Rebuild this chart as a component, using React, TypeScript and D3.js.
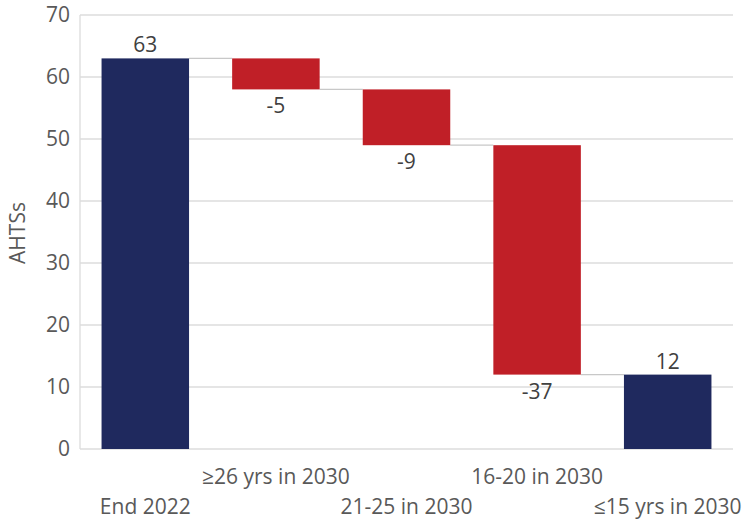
import React from "react";
import * as d3 from "d3";

const categories = ["End 2022", "≥26 yrs in 2030", "21-25 in 2030", "16-20 in 2030", "≤15 yrs in 2030"];
const values = [63, -5, -9, -37, 12];
const isTotal = [true, false, false, false, true];
const yTicks = [0, 10, 20, 30, 40, 50, 60, 70];

const W = 756;
const H = 519;
const M = { left: 80, right: 23, top: 15, bottom: 70 };
const FONT = "'Open Sans', 'DejaVu Sans', sans-serif";
const FS = 21;

export default function App() {
  const x = d3
    .scaleBand<string>()
    .domain(categories)
    .range([M.left, W - M.right])
    .paddingInner(0.33)
    .paddingOuter(0.165);
  const y = d3.scaleLinear().domain([0, 70]).range([H - M.bottom, M.top]);

  let running = 0;
  const bars = categories.map((c, i) => {
    let lo: number, hi: number, end: number;
    if (isTotal[i]) {
      lo = 0;
      hi = values[i];
      end = values[i];
    } else {
      const start = running;
      end = running + values[i];
      lo = Math.min(start, end);
      hi = Math.max(start, end);
    }
    running = end;
    return { c, v: values[i], lo, hi, end, total: isTotal[i] };
  });

  const bw = x.bandwidth();

  return (
    <svg width={W} height={H} style={{ display: "block", position: "absolute", left: 0, top: 0 }} fontFamily={FONT}>
      <rect width={W} height={H} fill="#fff" />
      {yTicks.map((t) => (
        <g key={t}>
          <line x1={M.left} x2={W - M.right} y1={y(t)} y2={y(t)} stroke="#dcdcdc" strokeWidth={1.3} />
          <text x={M.left - 10} y={y(t)} dy="0.35em" textAnchor="end" fontSize={FS} fill="#595959">
            {t}
          </text>
        </g>
      ))}
      <line x1={M.left} x2={M.left} y1={y(70)} y2={y(0)} stroke="#dcdcdc" strokeWidth={1.3} />
      {bars.slice(0, -1).map((b, i) => {
        const nx = bars[i + 1];
        return (
          <line
            key={"c" + i}
            x1={x(b.c)! + bw}
            x2={x(nx.c)!}
            y1={y(b.end)}
            y2={y(b.end)}
            stroke="#c8c8c8"
            strokeWidth={1.2}
          />
        );
      })}
      {bars.map((b) => (
        <rect
          key={b.c}
          x={x(b.c)}
          y={y(b.hi)}
          width={bw}
          height={y(b.lo) - y(b.hi)}
          fill={b.total ? "#1f295e" : "#c01f27"}
        />
      ))}
      {bars.map((b) => (
        <text
          key={"l" + b.c}
          x={x(b.c)! + bw / 2}
          y={b.total ? y(b.hi) - 6 : y(b.lo) + 24}
          textAnchor="middle"
          fontSize={FS}
          fill="#404040"
        >
          {b.v}
        </text>
      ))}
      {categories.map((c, i) => (
        <text
          key={"x" + c}
          x={x(c)! + bw / 2}
          y={i % 2 === 0 ? 514 : 484}
          textAnchor="middle"
          fontSize={FS}
          fill="#595959"
        >
          {c}
        </text>
      ))}
      <text
        transform={`translate(${25},${233}) rotate(-90)`}
        textAnchor="middle"
        fontSize={FS}
        fill="#595959"
      >
        AHTSs
      </text>
    </svg>
  );
}
